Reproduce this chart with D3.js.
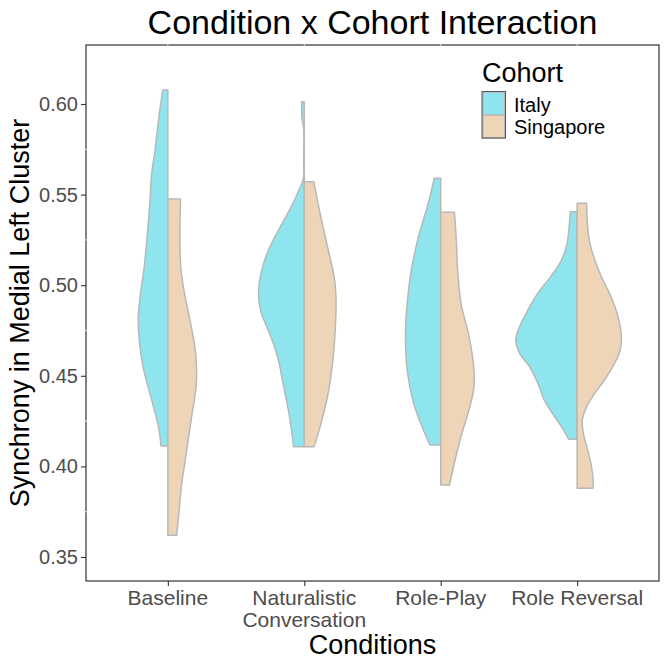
<!DOCTYPE html>
<html>
<head>
<meta charset="utf-8">
<script src="https://cdn.jsdelivr.net/npm/d3@7"></script>
<style>
  body { margin: 0; background: #fff; }
  svg { display: block; font-family: "Liberation Sans", Arial, sans-serif; }
</style>
</head>
<body>
<svg id="chart" width="669" height="661"></svg>
<script>
// ---------- data ----------
const conditions = ["Baseline", "Naturalistic\nConversation", "Role-Play", "Role Reversal"];
const cohorts = ["Italy", "Singapore"];
const cohortColors = ["#8EE5EE", "#EED5B7"];
const yTicks = [0.35, 0.40, 0.45, 0.50, 0.55, 0.60];

// density profiles: [synchrony value, density]
const baselineItaly = [[0.6077,0.53],[0.5921,0.93],[0.5737,1.33],[0.5608,1.67],[0.5461,1.83],[0.5277,2.10],[0.5093,2.43],[0.4964,2.77],[0.4816,3.03],[0.4706,2.93],[0.4541,2.50],[0.4357,1.60],[0.4210,0.93],[0.4113,0.70]];
const baselineSingapore = [[0.5476,1.30],[0.5277,1.23],[0.5093,1.33],[0.4964,1.67],[0.4816,2.23],[0.4670,2.73],[0.4578,2.90],[0.4449,2.90],[0.4265,2.40],[0.4081,1.90],[0.3897,1.40],[0.3713,1.07],[0.3620,0.90]];
const naturalisticItaly = [[0.6013,0.27],[0.5921,0.23],[0.5866,0.07],[0.5682,0.07],[0.5590,0.10],[0.5498,0.77],[0.5406,1.60],[0.5314,2.53],[0.5222,3.43],[0.5130,4.10],[0.5038,4.53],[0.4946,4.67],[0.4854,4.43],[0.4762,3.77],[0.4670,3.10],[0.4578,2.60],[0.4486,2.27],[0.4394,1.93],[0.4302,1.60],[0.4210,1.33],[0.4109,1.10]];
const naturalisticSingapore = [[0.5571,0.97],[0.5406,1.57],[0.5222,2.33],[0.5038,3.07],[0.4946,3.23],[0.4762,3.17],[0.4578,2.90],[0.4394,2.40],[0.4210,1.57],[0.4109,1.00]];
const rolePlayItaly = [[0.5590,0.67],[0.5452,1.27],[0.5268,2.27],[0.5084,3.00],[0.4900,3.43],[0.4716,3.60],[0.4532,3.43],[0.4348,2.77],[0.4201,1.77],[0.4118,1.10]];
const rolePlaySingapore = [[0.5403,1.40],[0.5268,1.57],[0.5084,1.73],[0.4900,2.07],[0.4716,2.90],[0.4532,3.40],[0.4440,3.40],[0.4348,3.07],[0.4164,2.07],[0.3980,1.23],[0.3897,0.90]];
const roleReversalItaly = [[0.5406,0.70],[0.5231,1.03],[0.5139,1.60],[0.5047,2.70],[0.4955,4.03],[0.4863,5.03],[0.4771,5.87],[0.4698,6.27],[0.4624,5.87],[0.4550,4.87],[0.4440,3.87],[0.4367,3.37],[0.4293,2.53],[0.4219,1.60],[0.4150,0.87]];
const roleReversalSingapore = [[0.5452,0.97],[0.5323,1.07],[0.5231,1.30],[0.5139,1.80],[0.5047,2.47],[0.4955,3.30],[0.4863,3.97],[0.4771,4.40],[0.4698,4.53],[0.4624,4.30],[0.4550,3.63],[0.4477,2.80],[0.4403,1.80],[0.4330,0.97],[0.4256,0.53],[0.4183,0.63],[0.4091,1.07],[0.3998,1.47],[0.3925,1.63],[0.3879,1.63]];

const profiles = [
  [baselineItaly, baselineSingapore],
  [naturalisticItaly, naturalisticSingapore],
  [rolePlayItaly, rolePlaySingapore],
  [roleReversalItaly, roleReversalSingapore]
];

// ---------- layout ----------
const panel = { left: 86, right: 659, top: 45, bottom: 581 };
const svg = d3.select("#chart");

const x = d3.scalePoint().domain(conditions).range([panel.left, panel.right]).padding(0.6);
const y = d3.scaleLinear().domain([0.33675, 0.63256]).range([panel.bottom, panel.top]);
const maxDensity = d3.max(profiles.flat(), p => d3.max(p, d => d[1]));
const w = d3.scaleLinear().domain([0, maxDensity]).range([0, x.step() * 0.45]);

const outline = "#B8B8B8";

// violins
const g = svg.append("g");
conditions.forEach((c, i) => {
  const cx = x(c);
  profiles[i].forEach((prof, k) => {
    const sign = k === 0 ? -1 : 1;
    const area = d3.area()
      .y(d => y(d[0]))
      .x0(cx)
      .x1(d => cx + sign * w(d[1]))
      .curve(d3.curveCatmullRom.alpha(0.5));
    g.append("path")
      .attr("d", area(prof))
      .attr("fill", cohortColors[k])
      .attr("stroke", outline)
      .attr("stroke-width", 1.5)
      .attr("stroke-linejoin", "round");
  });
});

// panel border
svg.append("rect")
  .attr("x", panel.left).attr("y", panel.top)
  .attr("width", panel.right - panel.left).attr("height", panel.bottom - panel.top)
  .attr("fill", "none").attr("stroke", "#333333").attr("stroke-width", 1.2);

// white grid lines crossing border (as in reference)
const grid = svg.append("g").attr("stroke", "#ffffff").attr("stroke-width", 0.8);
conditions.forEach(c => {
  grid.append("line").attr("x1", x(c)).attr("x2", x(c)).attr("y1", panel.top - 1).attr("y2", panel.top + 1);
});
yTicks.slice(0, -1).forEach((t, i) => {
  const m = (t + yTicks[i + 1]) / 2;
  grid.append("line").attr("x1", panel.left - 1).attr("x2", panel.left + 1).attr("y1", y(m)).attr("y2", y(m));
});

// y axis
const yAxis = d3.axisLeft(y).tickValues(yTicks).tickFormat(d3.format(".2f")).tickSize(5).tickPadding(3);
const ya = svg.append("g").attr("transform", `translate(${panel.left},0)`).call(yAxis);
ya.select(".domain").remove();
ya.selectAll(".tick line").attr("stroke", "#333333").attr("stroke-width", 1.1);
ya.selectAll(".tick text").attr("fill", "#4D4D4D").style("font-size", "20px").style("font-family", "Liberation Sans, Arial, sans-serif");

// x axis
const xAxis = d3.axisBottom(x).tickSize(5).tickPadding(4).tickFormat("");
const xa = svg.append("g").attr("transform", `translate(0,${panel.bottom})`).call(xAxis);
xa.select(".domain").remove();
xa.selectAll(".tick line").attr("stroke", "#333333").attr("stroke-width", 1.1);
conditions.forEach(c => {
  const lines = c.split("\n");
  const t = svg.append("text")
    .attr("x", x(c)).attr("y", 605)
    .attr("text-anchor", "middle")
    .attr("fill", "#4D4D4D")
    .style("font-size", "21px");
  lines.forEach((ln, j) => {
    t.append("tspan").attr("x", x(c)).attr("dy", j === 0 ? 0 : 21.5).text(ln);
  });
});

// titles
svg.append("text")
  .attr("x", (panel.left + panel.right) / 2).attr("y", 34)
  .attr("text-anchor", "middle").attr("fill", "#000")
  .style("font-size", "34px")
  .text("Condition x Cohort Interaction");

svg.append("text")
  .attr("x", (panel.left + panel.right) / 2).attr("y", 654)
  .attr("text-anchor", "middle").attr("fill", "#000")
  .style("font-size", "27px")
  .text("Conditions");

svg.append("text")
  .attr("transform", `translate(29,${(panel.top + panel.bottom) / 2}) rotate(-90)`)
  .attr("text-anchor", "middle").attr("fill", "#000")
  .style("font-size", "27px")
  .text("Synchrony in Medial Left Cluster");

// legend
const lg = svg.append("g").attr("transform", "translate(482,0)");
lg.append("text").attr("x", 0).attr("y", 82).attr("fill", "#000").style("font-size", "27px").text("Cohort");
cohorts.forEach((co, k) => {
  lg.append("rect")
    .attr("x", 0.75).attr("y", 92 + k * 23)
    .attr("width", 22).attr("height", 23)
    .attr("fill", cohortColors[k])
    .attr("stroke", outline).attr("stroke-width", 1.5);
  lg.append("text")
    .attr("x", 32).attr("y", 112 + k * 22)
    .attr("fill", "#000").style("font-size", "20px")
    .text(co);
});
lg.append("rect").attr("x", 0).attr("y", 91.5).attr("width", 23.5).attr("height", 46.5)
  .attr("fill", "none").attr("stroke", "#555").attr("stroke-width", 1);
</script>
</body>
</html>
